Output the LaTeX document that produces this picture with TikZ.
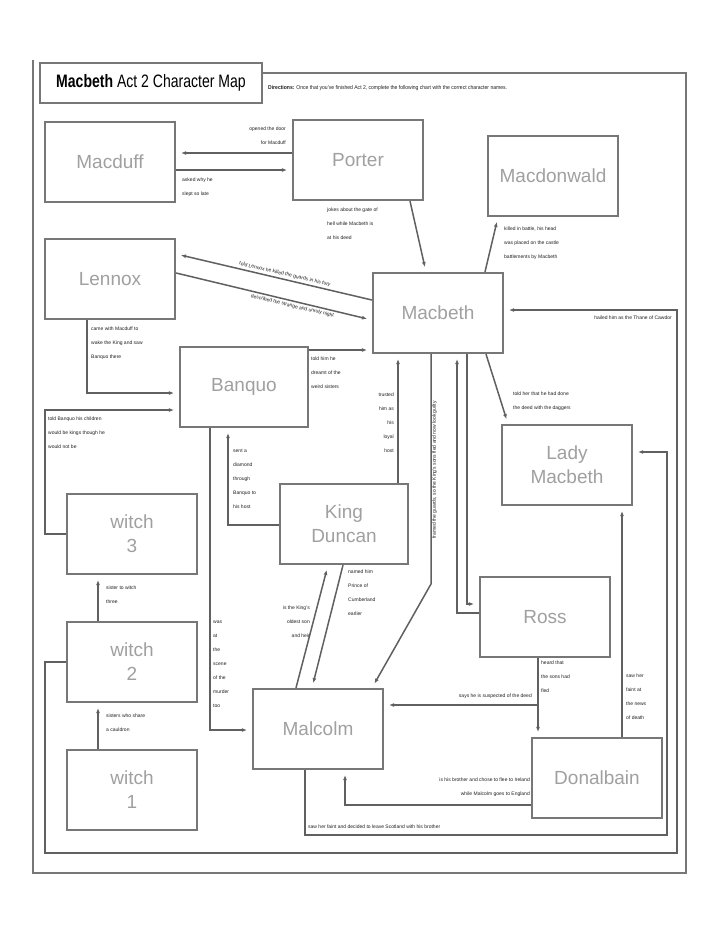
\documentclass[tikz,border=0pt]{standalone}
\usepackage{fontspec}
\setmainfont{Liberation Sans}
\usetikzlibrary{arrows.meta}
\definecolor{boxgray}{HTML}{777777}
\definecolor{linegray}{HTML}{606060}
\definecolor{namegray}{HTML}{A0A0A0}
\definecolor{notegray}{HTML}{202020}
\begin{document}
\begin{tikzpicture}[x=1pt,y=-1pt]
\tikzstyle{charbox} = [draw=boxgray, line width=2.2, minimum width=130pt, minimum height=80pt, inner sep=2pt, align=center, text=namegray, font=\fontsize{19}{24}\selectfont]
\tikzstyle{link} = [draw=linegray, line width=1.5]
\tikzstyle{arr} = [link, -{Latex[length=5pt,width=4pt]}, shorten >=5pt]
\tikzstyle{note} = [inner sep=0, text=notegray, font=\fontsize{5}{14}\selectfont]
\useasboundingbox (0,0) rectangle (720,932);
\fill[white] (0,0) rectangle (720,932);
% frame and title
\draw[boxgray, line width=2] (262,73) -- (686,73) -- (686,873) -- (33,873) -- (33,60);
\node[draw=boxgray, fill=white, line width=2, minimum width=222pt, minimum height=40pt, inner sep=0] (title) at (151,83) {\scalebox{0.78}[1]{\fontsize{18}{20}\selectfont\textbf{Macbeth} Act 2 Character Map}};
\node[note, anchor=west, font=\fontsize{5.6}{7}\selectfont] (directions) at (268,88) {\scalebox{0.9}[1]{\textbf{Directions:} Once that you've finished Act 2, complete the following chart with the correct character names.}};
% characters
\node[charbox] (macduff) at (110,162) {Macduff};
\node[charbox] (porter) at (358,160) {Porter};
\node[charbox] (macdonwald) at (553,176) {Macdonwald};
\node[charbox] (lennox) at (110,279) {Lennox};
\node[charbox] (macbeth) at (438,313) {Macbeth};
\node[charbox, minimum width=128pt] (banquo) at (244,387) {Banquo};
\node[charbox] (ladymac) at (567,465) {Lady\\Macbeth};
\node[charbox, minimum width=128pt] (duncan) at (344,524) {King\\Duncan};
\node[charbox] (witchC) at (132,534) {witch\\3};
\node[charbox] (witchB) at (132,662) {witch\\2};
\node[charbox] (witchA) at (132,790) {witch\\1};
\node[charbox] (malcolm) at (318,729) {Malcolm};
\node[charbox] (ross) at (545,617) {Ross};
\node[charbox] (donalbain) at (597,778) {Donalbain};
\coordinate (rossfork) at (538,705);
% connections
\draw[arr] (porter.west |- 0,153) -- (macduff.east |- 0,153);
\draw[arr] (macduff.east |- 0,170) -- (porter.west |- 0,170);
\draw[arr] (porter.south -| 410,0) -- (macbeth.north -| 426,0);
\draw[arr] (macbeth.north -| 485,0) -- (macdonwald.south -| 498,0);
\draw[arr] (macbeth.west |- 0,300) -- (lennox.east |- 0,254) node[note, pos=0.45, sloped, above=2pt] (noteML) {told Lennox he killed the guards in his fury};
\draw[arr] (lennox.east |- 0,273) -- (macbeth.west |- 0,320) node[note, pos=0.6, sloped, below=2pt] (noteLM) {described the strange and unruly night};
\draw[arr] (lennox.south -| 87,0) |- (banquo.west |- 0,393);
\draw[arr] (witchC.west) -- (45,534) |- (banquo.west |- 0,410);
\draw[arr] (banquo.east |- 0,350) -- (macbeth.west |- 0,350);
\draw[arr] (duncan.west |- 0,525) -| (banquo.south -| 228,0);
\draw[arr] (banquo.south -| 210,0) |- (malcolm.west |- 0,730);
\draw[arr] (duncan.north -| 398,0) -- (macbeth.south -| 398,0);
\draw[arr] (macbeth.south -| 431,0) -- (431,584) -- (malcolm.north -| 372,0);
\draw[arr] (ross.west |- 0,613) -| (macbeth.south -| 457,0);
\draw[arr] (macbeth.south -| 467,0) |- (ross.west |- 0,604);
\draw[arr] (macbeth.south -| 486,0) -- (ladymac.north -| 508,0);
\draw[arr] (malcolm.north -| 296,0) -- (duncan.south -| 328,0);
\draw[arr] (duncan.south -| 343,0) -- (malcolm.north -| 312,0);
\draw[arr] (ross.south -| 538,0) -- (donalbain.north -| 538,0);
\draw[arr] (rossfork) -- (malcolm.east |- rossfork);
\draw[arr] (donalbain.west |- 0,805) -| (malcolm.south -| 345,0);
\draw[arr] (donalbain.north -| 622,0) -- (ladymac.south -| 622,0);
\draw[arr] (malcolm.south -| 305,0) |- (667,835) -- (667,452) -- (ladymac.east |- 0,452);
\draw[arr] (witchB.west) -- (45,662) |- (677,853) |- (macbeth.east |- 0,310);
\draw[arr] (witchB.north -| 98,0) -- (witchC.south -| 98,0);
\draw[arr] (witchA.north -| 98,0) -- (witchB.south -| 98,0);
% labels
\node[note, anchor=south east, align=right] (notePM) at (286,145) {opened the door\\for Macduff};
\node[note, anchor=north west, align=left] (noteMP) at (182,178) {asked why he\\slept so late};
\node[note, anchor=north west, align=left] (notePorter) at (327,208) {jokes about the gate of\\hell while Macbeth is\\at his deed};
\node[note, anchor=north west, align=left] (noteMacd) at (504,227) {killed in battle, his head\\was placed on the castle\\battlements by Macbeth};
\node[note, anchor=north west, align=left] (noteLB) at (91,327) {came with Macduff to\\wake the King and saw\\Banquo there};
\node[note, anchor=north west, align=left] (noteWB) at (48,417) {told Banquo his children\\would be kings though he\\would not be};
\node[note, anchor=north west, align=left] (noteBM) at (311,357) {told him he\\dreamt of the\\weird sisters};
\node[note, anchor=north west, align=left] (noteDB) at (233,449) {sent a\\diamond\\through\\Banquo to\\his host};
\node[note, anchor=north west, align=left] (noteBMal) at (213,621) {was\\at\\the\\scene\\of the\\murder\\too};
\node[note, anchor=north east, align=right] (noteMalD) at (310,606) {is the King's\\oldest son\\and heir};
\node[note, anchor=north west, align=left] (noteDMal) at (348,570) {named him\\Prince of\\Cumberland\\earlier};
\node[note, anchor=north east, align=right] (noteDM) at (394,393) {trusted\\him as\\his\\loyal\\host};
\node[note, anchor=south, rotate=90] (noteMMal) at (437,470) {framed the guards, so the King's sons fled and now look guilty};
\node[note, anchor=north west, align=left] (noteMLM) at (513,392) {told her that he had done\\the deed with the daggers};
\node[note, anchor=north west, align=left] (noteRD) at (541,661) {heard that\\the sons had\\fled};
\node[note, anchor=south east] (noteRM) at (532,699) {says he is suspected of the deed};
\node[note, anchor=south east, align=right] (noteDonM) at (530,797) {is his brother and chose to flee to Ireland\\while Malcolm goes to England};
\node[note, anchor=north west, align=left] (noteDLM) at (626,674) {saw her\\faint at\\the news\\of death};
\node[note, anchor=south west] (noteMalLM) at (308,829) {saw her faint and decided to leave Scotland with his brother};
\node[note, anchor=north east] (noteW2M) at (672,316) {hailed him as the Thane of Cawdor};
\node[note, anchor=north west, align=left] (noteW2W3) at (106,586) {sister to witch\\three};
\node[note, anchor=north west, align=left] (noteW1W2) at (106,714) {sisters who share\\a cauldron};
\end{tikzpicture}
\end{document}
